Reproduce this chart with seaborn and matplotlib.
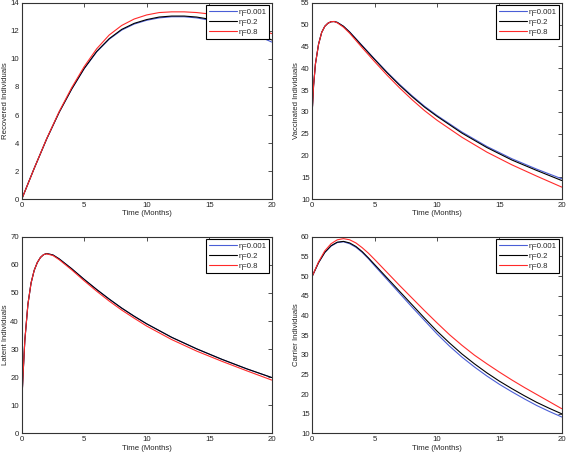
import matplotlib
matplotlib.use('Agg')
import matplotlib.pyplot as plt
import seaborn as sns
import numpy as np

# values
eta_labels = ['η=0.001', 'η=0.2', 'η=0.8']
line_colors = ['#4a5ed6', 'black', '#ff2a2a']

t_rec = [0, 1, 2, 3, 4, 5, 6, 7, 8, 9, 10, 11, 12, 13, 14, 15, 16, 17, 18, 19, 20]
rec_blue = [0, 2.2, 4.3, 6.2, 7.85, 9.3, 10.5, 11.4, 12.05, 12.48, 12.75, 12.92, 13.0, 13.0, 12.92, 12.76, 12.55, 12.28, 11.96, 11.6, 11.2]
rec_black = [0, 2.2, 4.3, 6.2, 7.85, 9.32, 10.53, 11.44, 12.1, 12.53, 12.8, 12.98, 13.05, 13.05, 12.98, 12.83, 12.63, 12.38, 12.08, 11.73, 11.35]
rec_red = [0, 2.2, 4.32, 6.25, 7.95, 9.45, 10.72, 11.7, 12.38, 12.84, 13.13, 13.3, 13.35, 13.35, 13.3, 13.2, 13.02, 12.8, 12.5, 12.15, 11.8]

t_vac = [0, 0.1, 0.25, 0.5, 0.75, 1, 1.25, 1.5, 1.75, 2, 2.5, 3, 4, 5, 6, 7, 8, 9, 10, 12, 14, 16, 18, 20]
vac_blue = [30.5, 36, 41, 45.5, 48.2, 49.6, 50.3, 50.65, 50.7, 50.5, 49.6, 48.3, 45.2, 42.1, 39.1, 36.3, 33.7, 31.3, 29.2, 25.4, 22.1, 19.3, 16.9, 14.7]
vac_black = [30.5, 36, 41, 45.5, 48.2, 49.6, 50.3, 50.65, 50.7, 50.5, 49.6, 48.25, 45.1, 42.0, 38.95, 36.1, 33.5, 31.1, 29.0, 25.15, 21.85, 19.0, 16.6, 14.3]
vac_red = [30.5, 36, 41, 45.5, 48.2, 49.6, 50.3, 50.65, 50.7, 50.4, 49.4, 48.0, 44.7, 41.5, 38.4, 35.5, 32.8, 30.3, 28.1, 24.2, 20.8, 17.9, 15.3, 12.8]

t_lat = [0, 0.1, 0.25, 0.5, 0.75, 1, 1.25, 1.5, 1.75, 2, 2.5, 3, 4, 5, 6, 7, 8, 9, 10, 12, 14, 16, 18, 20]
lat_blue = [10, 20, 33, 46, 53.5, 58, 60.8, 62.6, 63.6, 64.0, 63.5, 62.1, 58.6, 54.8, 51.2, 47.8, 44.6, 41.7, 39.0, 34.2, 30.1, 26.4, 23.0, 19.9]
lat_black = [10, 20, 33, 46, 53.5, 58, 60.8, 62.6, 63.6, 64.0, 63.5, 62.1, 58.6, 54.8, 51.2, 47.8, 44.6, 41.7, 39.0, 34.2, 30.1, 26.4, 23.0, 19.9]
lat_red = [10, 20, 33, 46, 53.5, 58, 60.8, 62.6, 63.6, 63.9, 63.3, 61.8, 58.2, 54.3, 50.6, 47.1, 43.9, 41.0, 38.2, 33.4, 29.3, 25.7, 22.3, 19.0]

t_car = [0, 0.5, 1, 1.5, 2, 2.5, 3, 3.5, 4, 4.5, 5, 6, 7, 8, 9, 10, 11, 12, 13, 14, 15, 16, 17, 18, 19, 20]
car_blue = [50, 53.4, 56.0, 57.6, 58.5, 58.7, 58.2, 57.3, 56.0, 54.4, 52.6, 49.1, 45.6, 42.1, 38.7, 35.3, 32.2, 29.4, 26.9, 24.6, 22.5, 20.6, 18.8, 17.1, 15.6, 14.2]
car_black = [50, 53.4, 56.0, 57.7, 58.6, 58.8, 58.4, 57.5, 56.2, 54.6, 52.9, 49.5, 46.1, 42.7, 39.3, 36.0, 33.0, 30.2, 27.7, 25.4, 23.3, 21.4, 19.6, 17.9, 16.4, 15.0]
car_red = [50, 53.6, 56.4, 58.2, 59.2, 59.5, 59.2, 58.4, 57.2, 55.8, 54.2, 50.9, 47.6, 44.4, 41.2, 38.1, 35.1, 32.4, 29.9, 27.7, 25.6, 23.6, 21.7, 19.9, 18.1, 16.3]

panels = [
    (t_rec, [rec_blue, rec_black, rec_red], 'Recovered Individuals', (0, 14), 2),
    (t_vac, [vac_blue, vac_black, vac_red], 'Vaccinated Individuals', (10, 55), 5),
    (t_lat, [lat_blue, lat_black, lat_red], 'Latent Individuals', (0, 70), 10),
    (t_car, [car_blue, car_black, car_red], 'Carrier Individuals', (10, 60), 5),
]

sns.set_style('white')
plt.rcParams['font.family'] = ['Liberation Sans', 'DejaVu Sans']
fs = 5.6

fig = plt.figure(figsize=(5.66, 4.54), dpi=100)
boxes = [
    [0.0383, 0.561, 0.4417, 0.433],
    [0.5518, 0.561, 0.4406, 0.433],
    [0.0383, 0.0452, 0.4417, 0.4335],
    [0.5518, 0.0452, 0.4406, 0.4335],
]

for box, (t, series, ylab, ylim, ystep) in zip(boxes, panels):
    ax = fig.add_axes(box)
    for vals, col, lab in zip(series, line_colors, eta_labels):
        sns.lineplot(x=t, y=vals, color=col, lw=0.8, label=lab, ax=ax,
                     estimator=None, sort=False)
    ax.set_xlim(0, 20)
    ax.set_ylim(*ylim)
    ax.set_xticks(np.arange(0, 21, 5))
    ax.set_yticks(np.arange(ylim[0], ylim[1] + 0.1, ystep))
    ax.tick_params(direction='in', length=3, width=0.6, top=True, right=True,
                   labelsize=fs, pad=2, color='#333333')
    for sp in ax.spines.values():
        sp.set_color('#333333')
        sp.set_linewidth(0.8)
    ax.set_xlabel('Time (Months)', fontsize=fs, labelpad=1)
    ax.set_ylabel(ylab, fontsize=fs, labelpad=1)
    leg = ax.legend(loc='upper right', fontsize=fs, fancybox=False, framealpha=1,
                    edgecolor='black', handlelength=3.6, borderaxespad=0.35,
                    labelspacing=0.35, borderpad=0.35, handletextpad=0.2)
    leg.get_frame().set_linewidth(0.8)

plt.savefig('out.png', dpi=100)
